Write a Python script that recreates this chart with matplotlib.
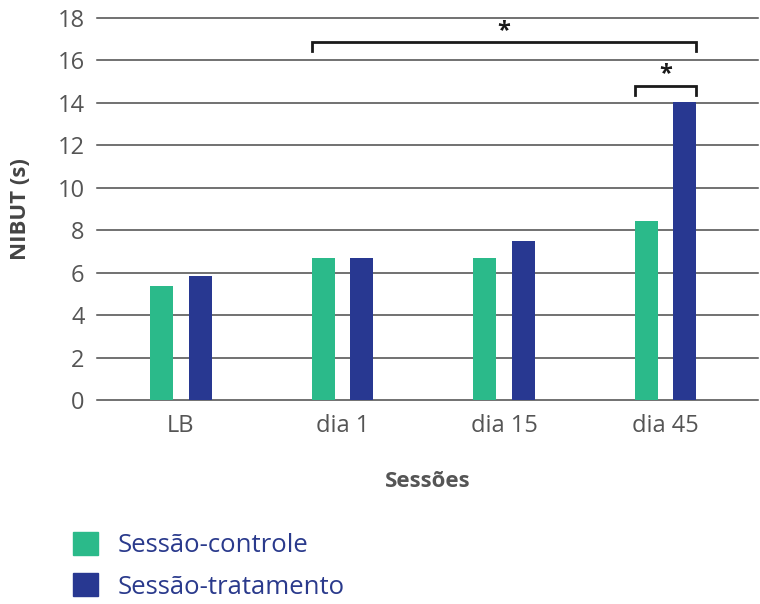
import matplotlib.pyplot as plt
from matplotlib.patches import Patch
import numpy as np

plt.rcParams['font.family'] = ['Open Sans', 'DejaVu Sans']

sessoes = ["LB", "dia 1", "dia 15", "dia 45"]
controle = [5.35, 6.7, 6.7, 8.45]
tratamento = [5.85, 6.7, 7.5, 14.05]
yticks = [0, 2, 4, 6, 8, 10, 12, 14, 16, 18]

verde = "#2bba8a"
azul = "#283891"

fig = plt.figure(figsize=(7.6, 6.04), dpi=100)
ax = fig.add_axes([97/760, (604-400)/604, (758-97)/760, 382/604])

x = np.arange(len(sessoes))
w = 0.142
off = 0.12
ax.bar(x - off, controle, w, color=verde, zorder=3)
ax.bar(x + off, tratamento, w, color=azul, zorder=3)

ax.set_xlim(-0.52, 3.573)
ax.set_ylim(0, 18)
ax.set_yticks(yticks)
ax.set_xticks(x)
ax.set_xticklabels(sessoes)
for t in yticks:
    ax.axhline(t, color="#4a4a4a", lw=1.1, zorder=1, clip_on=False)
for s in ax.spines.values():
    s.set_visible(False)
ax.tick_params(axis="y", length=0, pad=9, labelsize=17, labelcolor="#555555")
ax.tick_params(axis="x", length=0, pad=10, labelsize=17, labelcolor="#555555")

ax.set_ylabel("NIBUT (s)", fontsize=16, fontweight="bold", color="#444444", labelpad=19)
ax.set_xlabel("Sessões", fontsize=16, fontweight="bold", color="#555555", labelpad=24)

# significance brackets
def bracket(x0, x1, y, h, ys, txt):
    ax.plot([x0, x0, x1, x1], [y - h, y, y, y - h], color="#1a1a1a", lw=2,
            clip_on=False, zorder=4, solid_joinstyle="miter")
    ax.text((x0 + x1) / 2, ys, txt, ha="center", va="top", fontsize=17,
            fontweight="bold", color="#1a1a1a")

bracket(1 - off - w/2, 3 + off + w/2, 16.88, 0.45, 17.95, "*")
bracket(3 - off - w/2, 3 + off + w/2, 14.8, 0.42, 15.9, "*")

handles = [Patch(color=verde, label="Sessão-controle"),
           Patch(color=azul, label="Sessão-tratamento")]
leg = fig.legend(handles=handles, loc="upper left", bbox_to_anchor=(0.065, 0.158),
                 frameon=False, fontsize=18.5, handlelength=1.0, handleheight=1.0,
                 handletextpad=0.75, labelspacing=0.6)
for t in leg.get_texts():
    t.set_color("#2a3a8c")

fig.savefig("out.png", dpi=100)
